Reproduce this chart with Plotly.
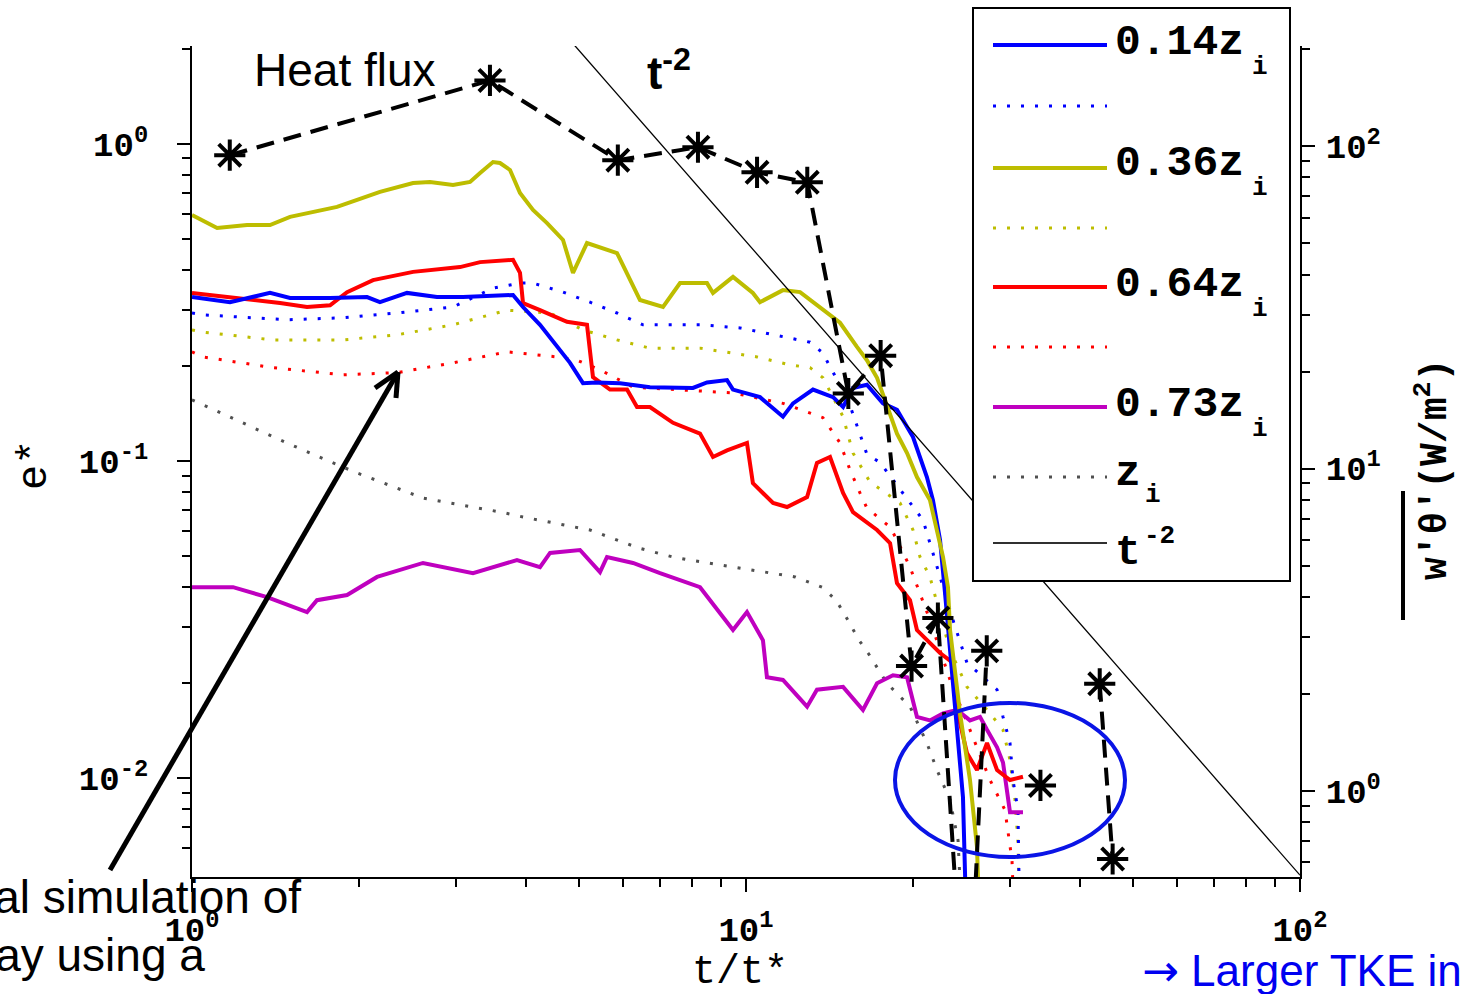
import plotly.graph_objects as go

# ---------------- data ----------------
# 0.14 zi (blue solid)
t_014 = [1.000, 1.171, 1.383, 1.503, 1.775, 2.070, 2.184, 2.444, 2.768, 3.084, 3.797, 3.958, 4.248,
         4.429, 4.812, 5.079, 5.383, 5.924, 6.709, 8.023, 8.504, 9.241, 9.474, 10.60, 11.66, 12.16,
         13.21, 14.36, 14.97, 15.60, 16.53, 17.67, 18.73, 20.02, 21.21, 21.75, 22.40, 22.87, 23.35,
         24.14, 24.64, 25.05]
e_014 = [0.329, 0.317, 0.339, 0.327, 0.327, 0.329, 0.317, 0.339, 0.329, 0.329, 0.334, 0.306, 0.269,
         0.246, 0.204, 0.176, 0.177, 0.176, 0.171, 0.170, 0.177, 0.180, 0.168, 0.159, 0.138, 0.152,
         0.168, 0.159, 0.148, 0.170, 0.174, 0.152, 0.145, 0.119, 0.0890, 0.0753, 0.0563, 0.0383, 0.0253,
         0.0125, 0.00871, 0.003]

# blue dotted
t_014d = [1.000, 1.047, 1.484, 1.873, 2.344, 2.959, 3.494, 3.909, 4.126, 4.674, 5.229, 5.850, 6.517,
          8.260, 9.754, 11.66, 13.05, 13.77, 14.18, 15.22, 16.53, 17.45, 19.20, 20.02, 20.87, 21.48,
          22.12, 23.64, 25.05, 28.39, 29.10, 29.96, 30.33, 30.97, 31.23]
e_014d = [0.293, 0.289, 0.279, 0.283, 0.293, 0.306, 0.351, 0.364, 0.364, 0.341, 0.317, 0.293, 0.269,
          0.269, 0.263, 0.246, 0.237, 0.219, 0.198, 0.159, 0.105, 0.099, 0.0793, 0.0716, 0.0651, 0.0551,
          0.0463, 0.0315, 0.0231, 0.0190, 0.0156, 0.0129, 0.00986, 0.00793, 0.003]

# 0.36 zi (yellow solid)
t_036 = [1.000, 1.110, 1.257, 1.383, 1.503, 1.654, 1.827, 1.986, 2.184, 2.506, 2.689, 2.959, 3.176,
         3.311, 3.494, 3.597, 3.750, 3.909, 4.126, 4.374, 4.674, 4.872, 5.164, 5.850, 6.175, 6.437,
         7.083, 7.602, 8.504, 8.718, 9.474, 10.29, 10.60, 11.66, 12.52, 13.60, 14.78, 15.86, 16.53,
         17.24, 17.97, 18.73, 19.53, 20.35, 21.48, 22.12, 22.68, 23.15, 23.35, 24.34, 25.37, 26.12, 26.45]
e_036 = [0.597, 0.543, 0.555, 0.555, 0.589, 0.610, 0.633, 0.666, 0.706, 0.753, 0.759, 0.742, 0.759,
         0.810, 0.877, 0.871, 0.828, 0.700, 0.619, 0.563, 0.498, 0.392, 0.487, 0.453, 0.372, 0.322,
         0.306, 0.364, 0.364, 0.339, 0.381, 0.339, 0.317, 0.346, 0.341, 0.306, 0.273, 0.229, 0.208,
         0.183, 0.148, 0.122, 0.106, 0.0890, 0.0753, 0.0593, 0.0498, 0.0400, 0.0293, 0.0160, 0.00986,
         0.00606, 0.003]

# yellow dotted
t_036d = [1.000, 1.047, 1.400, 1.873, 2.344, 2.959, 3.704, 4.429, 5.079, 5.850, 6.709, 8.260, 10.47,
          12.01, 13.05, 13.77, 14.97, 15.60, 16.74, 18.97, 20.02, 20.61, 21.48, 23.35, 25.05, 27.57,
          29.10, 29.96, 30.59, 30.97, 31.23]
e_036d = [0.259, 0.255, 0.241, 0.241, 0.250, 0.269, 0.299, 0.293, 0.259, 0.241, 0.227, 0.227, 0.213,
          0.201, 0.197, 0.183, 0.138, 0.106, 0.0859, 0.0737, 0.0606, 0.0498, 0.0431, 0.0253, 0.0194,
          0.0160, 0.0142, 0.0114, 0.00853, 0.00624, 0.003]

# 0.64 zi (red solid)
t_064 = [1.000, 1.171, 1.442, 1.613, 1.775, 1.905, 2.122, 2.506, 3.046, 3.311, 3.797, 3.909, 3.958,
         4.248, 4.752, 5.164, 5.294, 5.682, 6.099, 6.357, 6.709, 7.384, 8.260, 8.718, 9.241, 10.04,
         10.29, 11.19, 11.86, 12.89, 13.43, 14.18, 14.97, 15.60, 17.24, 18.20, 18.73, 19.77, 20.35,
         22.40, 23.64, 24.34, 25.05, 26.12, 27.23, 28.39, 29.96, 31.62]
e_064 = [0.339, 0.329, 0.315, 0.306, 0.310, 0.341, 0.372, 0.395, 0.409, 0.424, 0.431, 0.392, 0.315,
         0.299, 0.275, 0.269, 0.184, 0.168, 0.168, 0.148, 0.148, 0.132, 0.122, 0.103, 0.108, 0.114,
         0.0852, 0.0737, 0.0716, 0.0770, 0.0986, 0.103, 0.0793, 0.0690, 0.0606, 0.0551, 0.0412, 0.0364,
         0.0293, 0.0248, 0.0231, 0.0149, 0.0120, 0.0106, 0.0129, 0.0106, 0.00986, 0.0101]

# red dotted
t_064d = [1.000, 1.047, 1.400, 1.873, 2.344, 2.959, 3.704, 4.559, 4.953, 5.451, 6.252, 7.384, 9.474,
          11.66, 13.77, 14.78, 15.41, 16.06, 16.53, 18.20, 18.73, 19.77, 21.48, 23.35, 25.37, 27.57,
          29.34, 30.21, 30.59]
e_064d = [0.221, 0.213, 0.197, 0.187, 0.190, 0.204, 0.221, 0.213, 0.208, 0.194, 0.171, 0.168, 0.164,
          0.152, 0.137, 0.114, 0.0937, 0.0793, 0.0711, 0.0619, 0.0563, 0.0463, 0.0315, 0.0204, 0.0142,
          0.00986, 0.00793, 0.00551, 0.003]

# 0.73 zi (magenta solid)
t_073 = [1.000, 1.186, 1.366, 1.613, 1.681, 1.905, 2.158, 2.612, 3.215, 3.860, 4.248, 4.429, 5.016,
         5.451, 5.612, 6.252, 6.995, 8.260, 9.474, 10.04, 10.73, 10.91, 11.66, 12.89, 13.43, 14.97,
         16.26, 17.24, 18.42, 19.53, 20.35, 21.48, 22.68, 24.04, 25.37, 26.45, 27.23, 28.39, 29.10,
         29.96, 31.62]
e_073 = [0.0400, 0.0400, 0.0372, 0.0334, 0.0364, 0.0378, 0.0431, 0.0477, 0.0443, 0.0487, 0.0463, 0.0513,
         0.0524, 0.0446, 0.0498, 0.0477, 0.0443, 0.0400, 0.0293, 0.0334, 0.0272, 0.0208, 0.0204, 0.0168,
         0.0190, 0.0194, 0.0164, 0.0199, 0.0211, 0.0208, 0.0156, 0.0152, 0.0160, 0.0164, 0.0152, 0.0156,
         0.0142, 0.0125, 0.0112, 0.0078, 0.0078]

# zi (gray dotted)
t_zi = [1.000, 1.484, 1.782, 1.986, 2.612, 3.612, 3.958, 5.229, 6.411, 7.384, 7.924, 10.29, 12.26,
        13.72, 14.54, 15.09, 16.00, 16.61, 17.24, 17.97, 19.77, 21.21, 22.12, 23.35, 24.14, 24.64]
e_zi = [0.156, 0.114, 0.0993, 0.0917, 0.0764, 0.0690, 0.0666, 0.0606, 0.0531, 0.0498, 0.0487, 0.0453,
        0.0431, 0.0400, 0.0364, 0.0327, 0.0272, 0.0248, 0.0224, 0.0199, 0.0168, 0.0129, 0.0106, 0.00853,
        0.00637, 0.003]

# t^-2 reference line
t_ref = [4.9, 100.0]
e_ref = [2.05, 0.00494]

# heat flux (right axis, W/m^2)
t_hf = [1.17, 3.45, 5.87, 8.19, 10.47, 12.9, 15.3, 17.5, 19.9, 22.2, 25.05, 27.2, None, 34.0, None, 43.5, 45.9]
w_hf = [93.8, 160, 90.5, 99.3, 83.0, 77.3, 17.1, 22.4, 2.44, 3.44, 0.144, 2.72, None, 1.04, None, 2.15, 0.615]

# ---------------- layout helpers ----------------
W, H = 1464, 994
ML, MR, MT, MB = 192, 164, 46, 117
PW, PH = W - ML - MR, H - MT - MB


def px(x):
    return (x - ML) / PW


def py(y):
    return (H - MB - y) / PH


BLUE = "#0000FF"
YEL = "#BDBD00"
RED = "#FF0000"
MAG = "#BF00BF"
GRAY = "#505050"
DOT = "3px,11px"
MONO = "Liberation Mono"
SANS = "Liberation Sans"

fig = go.Figure()


def add(t, e, color, width, dash="solid", yaxis="y"):
    fig.add_trace(go.Scatter(x=t, y=e, mode="lines", yaxis=yaxis,
                             line=dict(color=color, width=width, dash=dash),
                             showlegend=False, hoverinfo="skip"))


add(t_zi, e_zi, GRAY, 3, DOT)
add(t_064d, e_064d, RED, 3, DOT)
add(t_036d, e_036d, YEL, 3, DOT)
add(t_014d, e_014d, BLUE, 3, DOT)
add(t_073, e_073, MAG, 4)
add(t_064, e_064, RED, 4)
add(t_014, e_014, BLUE, 4)
add(t_036, e_036, YEL, 4)
add(t_ref, e_ref, "black", 1.3)

fig.add_trace(go.Scatter(x=t_hf, y=w_hf, yaxis="y2", mode="lines+markers",
                         line=dict(color="black", width=4, dash="18px,10px"),
                         marker=dict(symbol="asterisk-open", size=26,
                                     line=dict(color="black", width=4)),
                         connectgaps=False, showlegend=False, hoverinfo="skip"))

tickfont = dict(family=MONO, size=34, color="black", weight="bold")
axis_common = dict(type="log", showline=True, linecolor="black", linewidth=2,
                   ticks="outside", ticklen=13, tickwidth=2, tickcolor="black",
                   showgrid=False, zeroline=False, tickfont=tickfont, tickmode="array")


def minor(vals):
    return dict(tickmode="array", tickvals=vals, ticks="outside", ticklen=8,
                tickwidth=2, tickcolor="black", showgrid=False)


fig.update_layout(
    width=W, height=H,
    margin=dict(l=ML, r=MR, t=MT, b=MB, pad=0),
    paper_bgcolor="white", plot_bgcolor="white",
    xaxis=dict(axis_common, range=[0, 2],
               tickvals=[1, 10, 100],
               ticktext=["10<sup>0</sup>", "10<sup>1</sup>", "10<sup>2</sup>"],
               ticklabelstandoff=8,
               minor=minor([2, 3, 4, 5, 6, 7, 8, 9, 20, 30, 40, 50, 60, 70, 80, 90])),
    yaxis=dict(axis_common, range=[-2.312, 0.309],
               tickvals=[0.01, 0.1, 1],
               ticktext=["10<sup>-2</sup>", "10<sup>-1</sup>", "10<sup>0</sup>"],
               ticklabelstandoff=22,
               minor=minor([0.006, 0.007, 0.008, 0.009, 0.02, 0.03, 0.04, 0.05, 0.06, 0.07,
                            0.08, 0.09, 0.2, 0.3, 0.4, 0.5, 0.6, 0.7, 0.8, 0.9, 2])),
    yaxis2=dict(axis_common, range=[-0.267, 2.311], overlaying="y", side="right",
                tickvals=[1, 10, 100],
                ticktext=["10<sup>0</sup>", "10<sup>1</sup>", "10<sup>2</sup>"],
                ticklabelstandoff=4,
                minor=minor([0.6, 0.7, 0.8, 0.9, 2, 3, 4, 5, 6, 7, 8, 9,
                             20, 30, 40, 50, 60, 70, 80, 90, 200])),
)

shapes = []
# legend box
shapes.append(dict(type="rect", xref="paper", yref="paper", layer="above",
                   x0=px(973), x1=px(1290), y0=py(581), y1=py(8),
                   line=dict(color="black", width=2), fillcolor="white"))
legend_rows = [
    (45, BLUE, 4, "solid"), (106, BLUE, 3, DOT),
    (168, YEL, 4, "solid"), (228, YEL, 3, DOT),
    (287, RED, 4, "solid"), (347, RED, 3, DOT),
    (407, MAG, 4, "solid"), (477, GRAY, 3, DOT),
    (543, "#303030", 2, "solid"),
]
for yy, c, w, d in legend_rows:
    shapes.append(dict(type="line", xref="paper", yref="paper", layer="above",
                       x0=px(993), x1=px(1107), y0=py(yy), y1=py(yy),
                       line=dict(color=c, width=w, dash=d)))
# blue ellipse
shapes.append(dict(type="circle", xref="paper", yref="paper", layer="above",
                   x0=px(895), x1=px(1125), y0=py(857), y1=py(703),
                   line=dict(color="#0A14E6", width=4)))
# arrow (shaft + open head)
for (x0, y0, x1, y1) in [(110, 870, 398, 372), (398, 372, 375, 388), (398, 372, 396, 398)]:
    shapes.append(dict(type="line", xref="paper", yref="paper", layer="above",
                       x0=px(x0), x1=px(x1), y0=py(y0), y1=py(y1),
                       line=dict(color="black", width=5)))
# overline of the right axis title
shapes.append(dict(type="line", xref="paper", yref="paper", layer="above",
                   x0=px(1403), x1=px(1403), y0=py(620), y1=py(491),
                   line=dict(color="black", width=4)))
fig.update_layout(shapes=shapes)

ann = []


def text(x, y, s, size, family=MONO, weight="bold", color="black", xa="left", ya="middle", angle=0):
    ann.append(dict(xref="paper", yref="paper", x=px(x), y=py(y), text=s, showarrow=False,
                    xanchor=xa, yanchor=ya, textangle=angle,
                    font=dict(family=family, size=size, color=color, weight=weight)))


legend_labels = [(42, "0.14z"), (163, "0.36z"), (284, "0.64z"), (404, "0.73z")]
for yy, s in legend_labels:
    text(1113, yy, s, 43)
    text(1250, yy + 25, "i", 26)
text(1113, 473, "z", 43)
text(1143, 495, "i", 26)
text(1113, 552, "t", 43)
text(1142, 536, "-2", 26)

text(252, 70, "Heat flux", 46, family=SANS, weight="normal")
text(645, 70, "t<sup>-2</sup>", 46, family=SANS, weight="bold")
text(740, 972, "t/t*", 40, xa="center", weight="normal")
text(35, 465, "e*", 42, xa="center", angle=-90, weight="normal")
text(1432, 470, "w'θ'(W/m<sup>2</sup>)", 38, xa="center", angle=-90)

text(303, 897, "Numerical simulation of", 46, family=SANS, weight="normal", xa="right")
text(207, 955, "decay using a", 46, family=SANS, weight="normal", xa="right")
text(1140, 970, "<span style='font-family:DejaVu Sans'>→</span> Larger TKE in the upper part", 44,
     family=SANS, weight="normal", color="#0000F0")

fig.update_layout(annotations=ann)

fig.write_html("out.html")
